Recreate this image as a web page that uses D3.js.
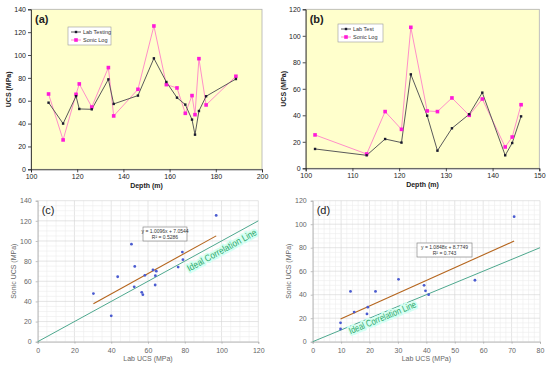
<!DOCTYPE html>
<meta charset="utf-8">
<html>
<head>
<script src="https://d3js.org/d3.v7.min.js"></script>
<style>
  body { margin: 0; background: #fff; }
  text { font-family: "Liberation Sans", Arial, sans-serif; }
</style>
</head>
<body>
<svg id="chart" width="550" height="370"></svg>
<script>
// panel (a) - depth profile
var depthA = [107.6, 113.9, 119.5, 120.9, 126.3, 133.5, 135.8, 146.3, 153.2, 158.6, 163.2, 166.8, 169.7, 171.0, 172.7, 175.8, 188.7];
var labA   = [58.3, 40, 64, 52.8, 52.5, 78.7, 57.2, 64.5, 97.1, 76.4, 62.7, 56.6, 43.5, 30.3, 51, 63.9, 79];
var sonicA = [65.9, 25.7, 65.6, 74.7, 54.5, 89, 46.7, 70, 125.4, 74.1, 71.2, 49, 64.5, 47.8, 96.8, 56.3, 81.4];

// panel (b) - depth profile
var depthB = [102.0, 113.05, 117.0, 120.5, 122.5, 126.0, 128.2, 131.3, 135.0, 137.8, 142.7, 144.2, 146.1];
var labB   = [14.6, 9.8, 22.1, 19.4, 70.9, 39.7, 13.3, 30.2, 40.8, 57.1, 9.8, 19.1, 39.2];
var sonicB = [25.2, 10.8, 42.8, 29.4, 106.4, 43.3, 42.8, 53.1, 40, 52.3, 16.1, 23.6, 48];

// regression results shown on (c) and (d)
var fitC = [1.0096, 7.0544], r2C = "0.5286";
var fitD = [1.0848, 8.7749], r2D = "0.743";

var svg = d3.select("#chart");

//Profile panels (a) and (b)
function profile(o) {
  var x = d3.scaleLinear().domain(o.xd).range(o.xr);
  var y = d3.scaleLinear().domain(o.yd).range(o.yr);
  var g = svg.append("g");

  g.append("rect")
    .attr("x", o.xr[0]).attr("y", o.yr[1])
    .attr("width", o.xr[1] - o.xr[0]).attr("height", o.yr[0] - o.yr[1])
    .attr("fill", "#ffffcc").attr("stroke", "#b0b0b0").attr("stroke-width", 0.8);

  var xa = g.append("g").attr("transform", "translate(0," + o.yr[0] + ")")
    .call(d3.axisBottom(x).ticks(o.xt).tickSize(3).tickPadding(2));
  var ya = g.append("g").attr("transform", "translate(" + o.xr[0] + ",0)")
    .call(d3.axisLeft(y).ticks(o.yt).tickSize(3).tickPadding(2));
  [xa, ya].forEach(function(a) {
    a.selectAll("path, line").attr("stroke", "#222").attr("stroke-width", 0.8);
    a.selectAll("text").attr("font-size", 7).attr("fill", "#222")
      .style("font-family", "'Liberation Sans', Arial, sans-serif");
  });

  var line = d3.line().x(function(d) { return x(d[0]); }).y(function(d) { return y(d[1]); });
  var lab = o.depth.map(function(d, i) { return [d, o.lab[i]]; });
  var son = o.depth.map(function(d, i) { return [d, o.sonic[i]]; });

  g.append("path").datum(son).attr("d", line)
    .attr("fill", "none").attr("stroke", "#ff8fc8").attr("stroke-width", 1);
  g.append("path").datum(lab).attr("d", line)
    .attr("fill", "none").attr("stroke", "#5a5a5a").attr("stroke-width", 1);

  g.selectAll(".ms").data(son).enter().append("rect")
    .attr("x", function(d) { return x(d[0]) - 1.8; })
    .attr("y", function(d) { return y(d[1]) - 1.8; })
    .attr("width", 3.6).attr("height", 3.6).attr("fill", "#ff1ad9");
  g.selectAll(".ml").data(lab).enter().append("rect")
    .attr("x", function(d) { return x(d[0]) - 1.2; })
    .attr("y", function(d) { return y(d[1]) - 1.2; })
    .attr("width", 2.4).attr("height", 2.4).attr("fill", "#1a1a2e");

  g.append("text").attr("x", o.xr[0] + 4).attr("y", o.yr[1] + 14)
    .attr("font-size", 11).attr("font-weight", "bold").attr("fill", "#222").text(o.tag);

  //legend
  var lg = g.append("g").attr("transform", "translate(" + o.leg[0] + "," + o.leg[1] + ")");
  lg.append("rect").attr("width", o.leg[2]).attr("height", 18)
    .attr("fill", "#fff").attr("stroke", "#999").attr("stroke-width", 0.6);
  [[o.names[0], "#5a5a5a", "#1a1a2e", 2.4], [o.names[1], "#ff8fc8", "#ff1ad9", 3.6]].forEach(function(e, i) {
    var yy = 5 + i * 8;
    lg.append("line").attr("x1", 3).attr("x2", 13).attr("y1", yy).attr("y2", yy)
      .attr("stroke", e[1]).attr("stroke-width", 1);
    lg.append("rect").attr("x", 8 - e[3] / 2).attr("y", yy - e[3] / 2)
      .attr("width", e[3]).attr("height", e[3]).attr("fill", e[2]);
    lg.append("text").attr("x", 15).attr("y", yy + 2).attr("font-size", 5.5)
      .attr("fill", "#333").text(e[0]);
  });

  g.append("text").attr("transform", "translate(" + (o.xr[0] - 20) + "," + ((o.yr[0] + o.yr[1]) / 2) + ") rotate(-90)")
    .attr("text-anchor", "middle").attr("font-size", 7).attr("font-weight", "bold")
    .attr("fill", "#222").text("UCS (MPa)");
  g.append("text").attr("x", (o.xr[0] + o.xr[1]) / 2).attr("y", o.yr[0] + 19)
    .attr("text-anchor", "middle").attr("font-size", 7).attr("font-weight", "bold")
    .attr("fill", "#222").text("Depth (m)");
}

profile({ xd: [100, 200], xr: [31, 262], yd: [0, 140], yr: [169.3, 9.3], xt: 5, yt: 7,
  depth: depthA, lab: labA, sonic: sonicA, tag: "(a)",
  leg: [68, 27, 43], names: ["Lab Testing", "Sonic Log"] });
profile({ xd: [100, 150], xr: [305.7, 539.3], yd: [0, 120], yr: [168.3, 9.3], xt: 5, yt: 6,
  depth: depthB, lab: labB, sonic: sonicB, tag: "(b)",
  leg: [338, 24, 45], names: ["Lab Test", "Sonic Log"] });

//Cross plots (c) and (d)
function cross(o) {
  var x = d3.scaleLinear().domain(o.xd).range(o.xr);
  var y = d3.scaleLinear().domain(o.yd).range(o.yr);
  var g = svg.append("g");

  g.selectAll(".gx").data(d3.range(o.xd[0], o.xd[1] + 0.01, o.xm)).enter().append("line")
    .attr("x1", x).attr("x2", x).attr("y1", o.yr[0]).attr("y2", o.yr[1])
    .attr("stroke", function(d) { return d % o.xs === 0 ? "#d4d4d4" : "#ececec"; }).attr("stroke-width", 0.6);
  g.selectAll(".gy").data(d3.range(o.yd[0], o.yd[1] + 0.01, o.ym)).enter().append("line")
    .attr("y1", y).attr("y2", y).attr("x1", o.xr[0]).attr("x2", o.xr[1])
    .attr("stroke", function(d) { return d % o.ys === 0 ? "#d4d4d4" : "#ececec"; }).attr("stroke-width", 0.6);

  var xa = g.append("g").attr("transform", "translate(0," + o.yr[0] + ")")
    .call(d3.axisBottom(x).tickValues(d3.range(o.xd[0], o.xd[1] + 0.01, o.xs)).tickSize(2).tickPadding(4));
  var ya = g.append("g").attr("transform", "translate(" + o.xr[0] + ",0)")
    .call(d3.axisLeft(y).tickValues(d3.range(o.yd[0], o.yd[1] + 0.01, o.ys)).tickSize(2).tickPadding(4));
  [xa, ya].forEach(function(a) {
    a.selectAll("path, line").attr("stroke", "#a6a6a6").attr("stroke-width", 0.7);
    a.selectAll("text").attr("font-size", 7).attr("fill", "#666")
      .style("font-family", "'Liberation Sans', Arial, sans-serif");
  });

  //ideal line y = x
  var top = Math.min(o.xd[1], o.yd[1]);
  var a1 = Math.atan2(y(0) - y(top), x(top) - x(0)) * 180 / Math.PI;
  g.append("line").attr("x1", x(0)).attr("y1", y(0)).attr("x2", x(top)).attr("y2", y(top))
    .attr("stroke", "#4ea88e").attr("stroke-width", 1);
  g.append("text")
    .attr("transform", "translate(" + x(o.lbl[0]) + "," + y(o.lbl[1]) + ") rotate(" + (-a1) + ")")
    .attr("text-anchor", "middle").attr("font-size", 9.5).attr("fill", "#2ea86a")
    .attr("textLength", o.lbl[2]).attr("lengthAdjust", "spacingAndGlyphs")
    .attr("stroke", "#d4fff2").attr("stroke-width", 4).attr("paint-order", "stroke")
    .attr("stroke-linejoin", "round")
    .text("Ideal Correlation Line");

  //trend line
  var lo = d3.min(o.lab), hi = d3.max(o.lab);
  g.append("line").attr("x1", x(lo)).attr("y1", y(o.fit[0] * lo + o.fit[1]))
    .attr("x2", x(hi)).attr("y2", y(o.fit[0] * hi + o.fit[1]))
    .attr("stroke", "#b5651d").attr("stroke-width", 1.1);

  g.selectAll(".pt").data(o.lab).enter().append("circle")
    .attr("cx", function(d) { return x(d); })
    .attr("cy", function(d, i) { return y(o.sonic[i]); })
    .attr("r", 1.4).attr("fill", "#4a5bd0");

  //equation box
  var eb = g.append("g").attr("transform", "translate(" + o.box[0] + "," + o.box[1] + ")");
  eb.append("rect").attr("width", o.box[2]).attr("height", 14)
    .attr("fill", "#fff").attr("stroke", "#777").attr("stroke-width", 0.6);
  eb.append("text").attr("x", o.box[2] / 2).attr("y", 5.5).attr("text-anchor", "middle")
    .attr("font-size", 5).attr("fill", "#333")
    .text("y = " + o.fit[0] + "x + " + o.fit[1]);
  eb.append("text").attr("x", o.box[2] / 2).attr("y", 11.5).attr("text-anchor", "middle")
    .attr("font-size", 5).attr("fill", "#333").text("R\u00b2 = " + o.r2);

  g.append("text").attr("x", o.xr[0] + 4).attr("y", o.yr[1] + 13)
    .attr("font-size", 11).attr("fill", "#222").text(o.tag);

  g.append("text").attr("transform", "translate(" + (o.xr[0] - 22) + "," + ((o.yr[0] + o.yr[1]) / 2) + ") rotate(-90)")
    .attr("text-anchor", "middle").attr("font-size", 7).attr("fill", "#666").text("Sonic UCS (MPa)");
  g.append("text").attr("x", (o.xr[0] + o.xr[1]) / 2).attr("y", o.yr[0] + 19)
    .attr("text-anchor", "middle").attr("font-size", 7).attr("fill", "#666").text("Lab UCS (MPa)");
}

cross({ xd: [0, 120], xr: [37.7, 258.3], yd: [0, 140], yr: [341.7, 200.7],
  xs: 20, ys: 20, xm: 5, ym: 5, lab: labA, sonic: sonicA, fit: fitC, r2: r2C,
  tag: "(c)", box: [143, 227, 44], lbl: [101, 88, 78] });
cross({ xd: [0, 80], xr: [312.7, 540], yd: [0, 120], yr: [341.7, 200.7],
  xs: 10, ys: 20, xm: 2, ym: 4, lab: labB, sonic: sonicB, fit: fitD, r2: r2D,
  tag: "(d)", box: [417, 243, 55], lbl: [25, 18, 72] });
</script>
</body>
</html>
